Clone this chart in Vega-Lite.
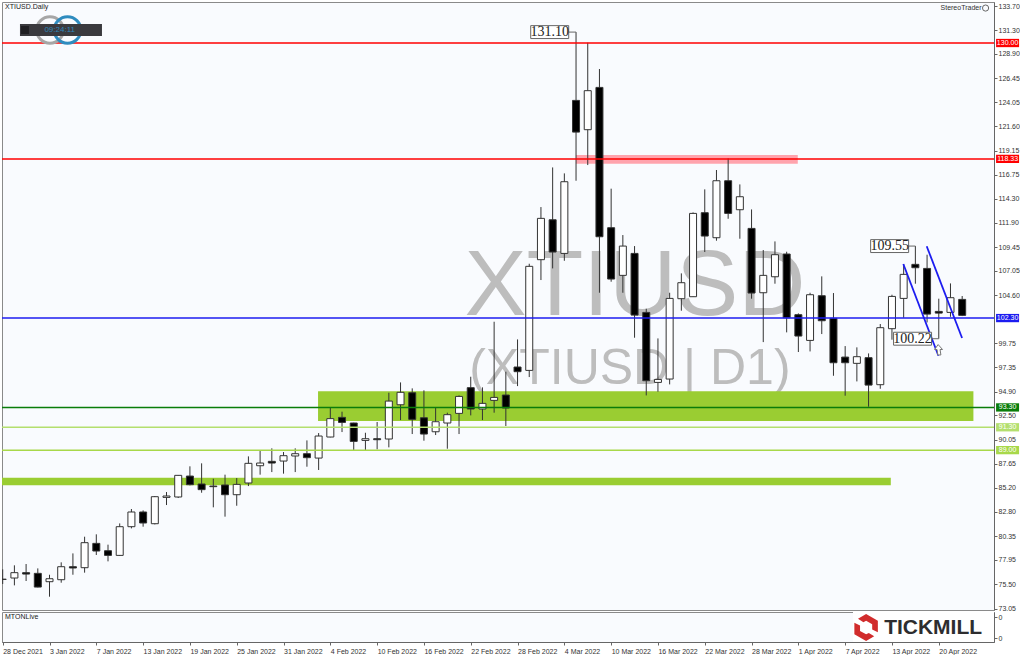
{"$schema":"https://vega.github.io/schema/vega-lite/v6.json","padding":{"left":0,"top":1,"right":0,"bottom":0},"background":"#ffffff","spacing":2,"bounds":"flush","config":{"view":{"stroke":"#8a8a8a","fill":"#f9fbfe"},"axis":{"labelFont":"Liberation Sans","labelFontSize":7,"labelColor":"#333333","tickColor":"#666666","domainColor":"#666666","grid":false,"labelOverlap":false},"text":{"font":"Liberation Sans"}},"datasets":{"candles":[
{"date":"2021-12-28","i":0,"open":76.0,"high":76.99,"low":75.52,"close":75.98},
{"date":"2021-12-29","i":1,"open":76.12,"high":77.4,"low":75.38,"close":76.66},
{"date":"2021-12-30","i":2,"open":76.66,"high":77.53,"low":75.82,"close":76.52},
{"date":"2021-12-31","i":3,"open":76.59,"high":77.09,"low":75.18,"close":75.21},
{"date":"2022-01-03","i":4,"open":75.75,"high":76.45,"low":74.24,"close":76.05},
{"date":"2022-01-04","i":5,"open":75.95,"high":77.7,"low":75.65,"close":77.26},
{"date":"2022-01-05","i":6,"open":77.26,"high":78.6,"low":76.45,"close":77.13},
{"date":"2022-01-06","i":7,"open":77.16,"high":80.28,"low":76.66,"close":79.68},
{"date":"2022-01-07","i":8,"open":79.61,"high":80.52,"low":78.44,"close":78.84},
{"date":"2022-01-10","i":9,"open":78.87,"high":79.48,"low":77.8,"close":78.4},
{"date":"2022-01-11","i":10,"open":78.4,"high":81.62,"low":78.37,"close":81.29},
{"date":"2022-01-12","i":11,"open":81.29,"high":83.07,"low":81.12,"close":82.77},
{"date":"2022-01-13","i":12,"open":82.77,"high":82.93,"low":81.29,"close":81.66},
{"date":"2022-01-14","i":13,"open":81.59,"high":84.38,"low":81.52,"close":84.31},
{"date":"2022-01-17","i":14,"open":84.24,"high":84.78,"low":83.47,"close":84.38},
{"date":"2022-01-18","i":15,"open":84.28,"high":86.49,"low":84.18,"close":86.46},
{"date":"2022-01-19","i":16,"open":86.39,"high":87.37,"low":85.45,"close":85.52},
{"date":"2022-01-20","i":17,"open":85.59,"high":87.67,"low":84.71,"close":85.02},
{"date":"2022-01-21","i":18,"open":85.38,"high":86.12,"low":83.24,"close":85.32},
{"date":"2022-01-24","i":19,"open":85.49,"high":86.53,"low":82.3,"close":84.51},
{"date":"2022-01-25","i":20,"open":84.51,"high":86.19,"low":83.4,"close":85.55},
{"date":"2022-01-26","i":21,"open":85.69,"high":88.37,"low":85.38,"close":87.67},
{"date":"2022-01-27","i":22,"open":87.43,"high":88.94,"low":86.53,"close":87.7},
{"date":"2022-01-28","i":23,"open":87.87,"high":89.18,"low":86.79,"close":87.7},
{"date":"2022-01-31","i":24,"open":87.9,"high":88.81,"low":86.63,"close":88.44},
{"date":"2022-02-01","i":25,"open":88.41,"high":89.18,"low":86.79,"close":88.64},
{"date":"2022-02-02","i":26,"open":88.64,"high":89.98,"low":87.33,"close":88.24},
{"date":"2022-02-03","i":27,"open":88.2,"high":90.72,"low":87.0,"close":90.42},
{"date":"2022-02-04","i":28,"open":90.32,"high":93.31,"low":90.29,"close":92.17},
{"date":"2022-02-07","i":29,"open":92.3,"high":92.87,"low":90.82,"close":91.79},
{"date":"2022-02-08","i":30,"open":91.73,"high":91.76,"low":89.01,"close":89.88},
{"date":"2022-02-09","i":31,"open":89.98,"high":90.75,"low":89.01,"close":90.15},
{"date":"2022-02-10","i":32,"open":90.15,"high":91.83,"low":89.08,"close":90.05},
{"date":"2022-02-11","i":33,"open":90.12,"high":94.78,"low":89.28,"close":93.94},
{"date":"2022-02-14","i":34,"open":93.57,"high":95.82,"low":92.03,"close":94.82},
{"date":"2022-02-15","i":35,"open":94.78,"high":95.22,"low":90.62,"close":92.1},
{"date":"2022-02-16","i":36,"open":92.26,"high":95.02,"low":89.95,"close":90.62},
{"date":"2022-02-17","i":37,"open":90.85,"high":93.27,"low":90.52,"close":91.86},
{"date":"2022-02-18","i":38,"open":91.73,"high":92.77,"low":89.14,"close":92.57},
{"date":"2022-02-21","i":39,"open":92.7,"high":94.51,"low":90.62,"close":94.41},
{"date":"2022-02-22","i":40,"open":95.29,"high":96.39,"low":92.5,"close":93.14},
{"date":"2022-02-23","i":41,"open":93.14,"high":95.32,"low":92.03,"close":93.71},
{"date":"2022-02-24","i":42,"open":94.01,"high":101.93,"low":92.77,"close":94.31},
{"date":"2022-02-25","i":43,"open":94.55,"high":96.9,"low":91.43,"close":93.24},
{"date":"2022-02-28","i":44,"open":97.37,"high":100.15,"low":95.45,"close":96.9},
{"date":"2022-03-01","i":45,"open":97.03,"high":107.77,"low":96.36,"close":107.51},
{"date":"2022-03-02","i":46,"open":108.18,"high":113.48,"low":106.13,"close":112.34},
{"date":"2022-03-03","i":47,"open":112.2,"high":117.47,"low":107.3,"close":108.95},
{"date":"2022-03-04","i":48,"open":108.81,"high":116.87,"low":108.07,"close":116.03},
{"date":"2022-03-07","i":49,"open":124.22,"high":131.1,"low":116.13,"close":121.03},
{"date":"2022-03-08","i":50,"open":121.27,"high":130.03,"low":117.71,"close":125.2},
{"date":"2022-03-09","i":51,"open":125.53,"high":127.38,"low":104.85,"close":110.49},
{"date":"2022-03-10","i":52,"open":111.4,"high":115.33,"low":105.96,"close":106.23},
{"date":"2022-03-11","i":53,"open":106.6,"high":110.66,"low":104.85,"close":109.55},
{"date":"2022-03-14","i":54,"open":108.81,"high":109.55,"low":100.32,"close":102.6},
{"date":"2022-03-15","i":55,"open":102.87,"high":103.24,"low":94.51,"close":95.99},
{"date":"2022-03-16","i":56,"open":95.82,"high":100.25,"low":94.88,"close":96.12},
{"date":"2022-03-17","i":57,"open":96.16,"high":104.85,"low":95.62,"close":104.28},
{"date":"2022-03-18","i":58,"open":104.25,"high":106.8,"low":103.04,"close":105.86},
{"date":"2022-03-21","i":59,"open":104.45,"high":112.94,"low":104.42,"close":112.84},
{"date":"2022-03-22","i":60,"open":112.91,"high":115.26,"low":108.95,"close":110.56},
{"date":"2022-03-23","i":61,"open":110.39,"high":117.21,"low":110.09,"close":116.13},
{"date":"2022-03-24","i":62,"open":116.13,"high":118.38,"low":112.3,"close":112.84},
{"date":"2022-03-25","i":63,"open":113.21,"high":115.76,"low":110.29,"close":114.52},
{"date":"2022-03-28","i":64,"open":111.33,"high":113.24,"low":104.25,"close":104.82},
{"date":"2022-03-29","i":65,"open":104.85,"high":109.15,"low":99.88,"close":106.6},
{"date":"2022-03-30","i":66,"open":106.46,"high":110.02,"low":105.76,"close":108.68},
{"date":"2022-03-31","i":67,"open":108.75,"high":108.98,"low":100.86,"close":102.33},
{"date":"2022-04-01","i":68,"open":102.64,"high":102.77,"low":98.88,"close":100.49},
{"date":"2022-04-04","i":69,"open":100.05,"high":104.85,"low":98.94,"close":104.65},
{"date":"2022-04-05","i":70,"open":104.55,"high":106.5,"low":100.69,"close":102.03},
{"date":"2022-04-06","i":71,"open":102.27,"high":104.82,"low":96.49,"close":97.8},
{"date":"2022-04-07","i":72,"open":98.37,"high":99.48,"low":94.48,"close":97.8},
{"date":"2022-04-08","i":73,"open":97.74,"high":99.35,"low":95.92,"close":98.41},
{"date":"2022-04-11","i":74,"open":98.31,"high":98.74,"low":93.37,"close":95.55},
{"date":"2022-04-12","i":75,"open":95.59,"high":101.7,"low":95.18,"close":101.33},
{"date":"2022-04-13","i":76,"open":101.23,"high":104.65,"low":100.12,"close":104.48},
{"date":"2022-04-14","i":77,"open":104.28,"high":107.74,"low":102.33,"close":106.7},
{"date":"2022-04-18","i":78,"open":107.71,"high":109.55,"low":105.76,"close":107.37},
{"date":"2022-04-19","i":79,"open":107.3,"high":108.68,"low":101.86,"close":102.7},
{"date":"2022-04-20","i":80,"open":102.97,"high":104.25,"low":100.22,"close":102.8},
{"date":"2022-04-21","i":81,"open":102.87,"high":105.79,"low":102.43,"close":104.35},
{"date":"2022-04-22","i":82,"open":104.18,"high":104.52,"low":102.5,"close":102.57}
],
"levels":[{"price":130.0,"label":"130.00"},{"price":118.33,"label":"118.33"},{"price":102.3,"label":"102.30"},{"price":93.3,"label":"93.30"},{"price":91.3,"label":"91.30"},{"price":89.0,"label":"89.00"}],
"zones":[{"zone":"demand upper","from":26.95,"to":82.96,"top":94.92,"bottom":91.93},{"zone":"demand lower","from":-0.06,"to":75.9,"top":86.22,"bottom":85.46},{"zone":"supply","from":48.99,"to":67.95,"top":118.72,"bottom":117.84}],
"callouts":[{"label":"131.10","anchor":46.75,"candle":49,"edge":47.6,"price":131.1},{"label":"109.55","anchor":75.8,"candle":78,"edge":77.4,"price":109.55},{"label":"100.22","anchor":77.76,"candle":80,"edge":79.4,"price":100.22}],
"channels":[{"line":"a","i":76.97,"price":107.74},{"line":"a","i":79.97,"price":98.51},{"line":"b","i":78.97,"price":109.53},{"line":"b","i":81.99,"price":100.29}]
},
"vconcat":[
{"width":992,"height":608,"resolve":{"scale":{"fill":"independent","stroke":"independent","strokeWidth":"independent"}},"layer":[
{"data":{"values":[{"text":"XTIUSD","i":54.04,"price":105.43}]},"mark":{"type":"text","fontSize":93,"color":"#bdbdbd","align":"center","baseline":"middle"},"encoding":{"x":{"field":"i","type":"quantitative","scale":{"domain":[-0.06,84.72],"nice":false,"zero":false,"padding":0},"axis":null},"y":{"field":"price","type":"quantitative","scale":{"domain":[72.9,134.13],"nice":false,"zero":false,"padding":0},"axis":{"orient":"right","title":null,"values":[133.7,131.3,128.9,126.45,124.05,121.6,119.15,116.75,114.3,111.9,109.45,107.05,104.6,99.75,97.35,94.9,92.5,90.05,87.65,85.2,82.8,80.35,77.95,75.5,73.05],"tickCount":30,"format":".2f","tickSize":3,"labelPadding":1,"labelFlush":false,"labelOverlap":false}},"text":{"field":"text"}}},
{"data":{"values":[{"text":"(XTIUSD | D1)","i":53.6,"price":97.17}]},"mark":{"type":"text","fontSize":50,"color":"#bdbdbd","align":"center","baseline":"middle"},"encoding":{"x":{"field":"i","type":"quantitative"},"y":{"field":"price","type":"quantitative"},"text":{"field":"text"}}},
{"data":{"name":"zones"},"mark":{"type":"rect","clip":true},"encoding":{"x":{"field":"from","type":"quantitative"},"x2":{"field":"to"},"y":{"field":"top","type":"quantitative"},"y2":{"field":"bottom"},"fill":{"field":"zone","type":"nominal","legend":null,"scale":{"domain":["demand upper","demand lower","supply"],"range":["#9acd32","#9acd32","#ffa3ad"]}}}},
{"data":{"name":"candles"},"mark":{"type":"rule","color":"#333333","strokeWidth":1,"clip":true},"encoding":{"x":{"field":"i","type":"quantitative"},"y":{"field":"low","type":"quantitative"},"y2":{"field":"high"}}},
{"data":{"name":"candles"},"mark":{"type":"bar","width":7,"stroke":"#333333","strokeWidth":1,"clip":true},"encoding":{"x":{"field":"i","type":"quantitative"},"y":{"field":"open","type":"quantitative"},"y2":{"field":"close"},"fill":{"condition":{"test":"datum.close>datum.open","value":"#ffffff"},"value":"#000000"}}},
{"data":{"name":"levels"},"mark":{"type":"rule"},"encoding":{"y":{"field":"price","type":"quantitative"},"stroke":{"field":"label","type":"nominal","legend":null,"scale":{"domain":["130.00","118.33","102.30","93.30","91.30","89.00"],"range":["#ff0000","#ff0000","#1c1cf0","#0a7d0a","#b4df6e","#a8d84a"]}},"strokeWidth":{"field":"label","type":"nominal","legend":null,"scale":{"domain":["130.00","118.33","102.30","93.30","91.30","89.00"],"range":[1.5,1.5,1.6,1.5,2,1.5]}}}},
{"data":{"name":"channels"},"mark":{"type":"line","color":"#1c1cf0","strokeWidth":1.8},"encoding":{"x":{"field":"i","type":"quantitative"},"y":{"field":"price","type":"quantitative"},"detail":{"field":"line"}}},
{"data":{"name":"callouts"},"mark":{"type":"rule","color":"#666666","strokeWidth":1},"encoding":{"x":{"field":"edge","type":"quantitative"},"x2":{"field":"candle"},"y":{"field":"price","type":"quantitative"}}},
{"data":{"name":"callouts"},"mark":{"type":"point","filled":false,"fill":"#ffffff","fillOpacity":1,"stroke":"#666666","strokeWidth":1,"opacity":1,"size":1444,"shape":"M-1,-0.34 L1,-0.34 L1,0.34 L-1,0.34 Z"},"encoding":{"x":{"field":"anchor","type":"quantitative"},"y":{"field":"price","type":"quantitative"}}},
{"data":{"name":"callouts"},"mark":{"type":"text","font":"Liberation Serif","fontSize":14,"color":"#222222","align":"center","baseline":"middle"},"encoding":{"x":{"field":"anchor","type":"quantitative"},"y":{"field":"price","type":"quantitative"},"text":{"field":"label"}}},
{"data":{"values":[{"i":79.97,"price":99.08}]},"mark":{"type":"point","filled":false,"fill":"#ffffff","fillOpacity":1,"stroke":"#777777","strokeWidth":1,"opacity":1,"size":120,"shape":"M-0.05,-1 L0.75,-0.1 L0.3,-0.1 L0.45,0.9 L-0.1,0.9 L-0.25,-0.1 L-0.7,-0.1 Z"},"encoding":{"x":{"field":"i","type":"quantitative"},"y":{"field":"price","type":"quantitative"}}},
{"data":{"name":"levels"},"mark":{"type":"point","filled":true,"opacity":1,"size":529,"shape":"M-1,-0.36 L1,-0.36 L1,0.36 L-1,0.36 Z"},"encoding":{"x":{"datum":85.88,"type":"quantitative"},"y":{"field":"price","type":"quantitative"},"fill":{"field":"label","type":"nominal","legend":null,"scale":{"domain":["130.00","118.33","102.30","93.30","91.30","89.00"],"range":["#ff0000","#ff0000","#1c1cf0","#0a7d0a","#b4df6e","#a8d84a"]}}}},
{"data":{"name":"levels"},"mark":{"type":"text","fontSize":7,"color":"#ffffff","align":"center","baseline":"middle"},"encoding":{"x":{"datum":85.88,"type":"quantitative"},"y":{"field":"price","type":"quantitative"},"text":{"field":"label"}}},
{"data":{"values":[{"text":"XTIUSD.Daily","i":0.2,"price":133.67}]},"mark":{"type":"text","fontSize":7,"color":"#222222","align":"left","baseline":"middle"},"encoding":{"x":{"field":"i","type":"quantitative"},"y":{"field":"price","type":"quantitative"},"text":{"field":"text"}}},
{"data":{"values":[{"text":"StereoTrader","i":81.9,"price":133.52}]},"mark":{"type":"text","fontSize":7,"color":"#333333","align":"center","baseline":"middle"},"encoding":{"x":{"field":"i","type":"quantitative"},"y":{"field":"price","type":"quantitative"},"text":{"field":"text"}}},
{"data":{"values":[{"i":84.0,"price":133.52}]},"mark":{"type":"point","shape":"circle","filled":false,"stroke":"#666666","strokeWidth":1,"opacity":1,"size":38},"encoding":{"x":{"field":"i","type":"quantitative"},"y":{"field":"price","type":"quantitative"}}},
{"data":{"values":[{"ring":"grey","i":4.04,"price":131.31},{"ring":"blue","i":5.54,"price":131.31}]},"mark":{"type":"point","shape":"circle","filled":false,"strokeWidth":3,"opacity":1,"size":707},"encoding":{"x":{"field":"i","type":"quantitative"},"y":{"field":"price","type":"quantitative"},"stroke":{"field":"ring","type":"nominal","legend":null,"scale":{"domain":["grey","blue"],"range":["#a6a6a6","#2f8cbf"]}}}},
{"data":{"values":[{"i":4.98,"price":131.31}]},"mark":{"type":"point","filled":true,"fill":"#3a3a3e","opacity":1,"size":6724,"shape":"M-1,-0.146 L1,-0.146 L1,0.146 L-1,0.146 Z"},"encoding":{"x":{"field":"i","type":"quantitative"},"y":{"field":"price","type":"quantitative"}}},
{"data":{"values":[{"i":1.9,"price":131.31}]},"mark":{"type":"point","shape":"square","filled":true,"fill":"#1f1f22","opacity":1,"size":64},"encoding":{"x":{"field":"i","type":"quantitative"},"y":{"field":"price","type":"quantitative"}}},
{"data":{"values":[{"text":"09:24:11","i":4.87,"price":131.31}]},"mark":{"type":"text","fontSize":8,"color":"#2f86b8","align":"center","baseline":"middle"},"encoding":{"x":{"field":"i","type":"quantitative"},"y":{"field":"price","type":"quantitative"},"text":{"field":"text"}}}
]},
{"width":992,"height":30,"layer":[
{"data":{"values":[{"from":72.67,"to":84.72,"v0":0,"v1":1}]},"mark":{"type":"rect","fill":"#ffffff"},"encoding":{"x":{"field":"from","type":"quantitative","scale":{"domain":[-0.06,84.72],"nice":false,"zero":false,"padding":0},"axis":{"title":null,"values":[0,4,8,12,16,20,24,28,32,36,40,44,48,52,56,60,64,68,72,76,80],"tickCount":30,"labelExpr":"['28 Dec 2021','3 Jan 2022','7 Jan 2022','13 Jan 2022','19 Jan 2022','25 Jan 2022','31 Jan 2022','4 Feb 2022','10 Feb 2022','16 Feb 2022','22 Feb 2022','28 Feb 2022','4 Mar 2022','10 Mar 2022','16 Mar 2022','22 Mar 2022','28 Mar 2022','1 Apr 2022','7 Apr 2022','13 Apr 2022','20 Apr 2022'][datum.value/4]","labelAlign":"left","labelFlush":false,"labelOverlap":false,"tickSize":3,"labelPadding":2}},"x2":{"field":"to"},"y":{"field":"v0","type":"quantitative","scale":{"domain":[0,1],"nice":false,"zero":false},"axis":{"orient":"right","title":null,"values":[0.133,0.833],"tickCount":5,"labelExpr":"'0'","tickSize":3,"labelPadding":1,"labelFlush":false}},"y2":{"field":"v1"}}},
{"data":{"values":[{"text":"MTONLive","i":0.2,"v":0.83}]},"mark":{"type":"text","fontSize":7,"color":"#222222","align":"left","baseline":"middle"},"encoding":{"x":{"field":"i","type":"quantitative"},"y":{"field":"v","type":"quantitative"},"text":{"field":"text"}}},
{"data":{"values":[{"text":"TICKMILL","i":75.33,"v":0.48}]},"mark":{"type":"text","fontSize":21,"fontWeight":"bold","color":"#2d2d2f","align":"left","baseline":"middle"},"encoding":{"x":{"field":"i","type":"quantitative"},"y":{"field":"v","type":"quantitative"},"text":{"field":"text"}}},
{"data":{"values":[{"i":73.79,"v":0.48}]},"mark":{"type":"point","filled":true,"fill":"#d12c2c","opacity":1,"size":729,"shape":"M-0.6,-0.65 L0,-1 L0.87,-0.5 L0.87,0.35 L0.45,0.15 L0.45,-0.25 L0,-0.5 L-0.2,-0.4 Z M0.6,0.65 L0,1 L-0.87,0.5 L-0.87,-0.35 L-0.45,-0.15 L-0.45,0.25 L0,0.5 L0.2,0.4 Z"},"encoding":{"x":{"field":"i","type":"quantitative"},"y":{"field":"v","type":"quantitative"}}}
]}
]}
